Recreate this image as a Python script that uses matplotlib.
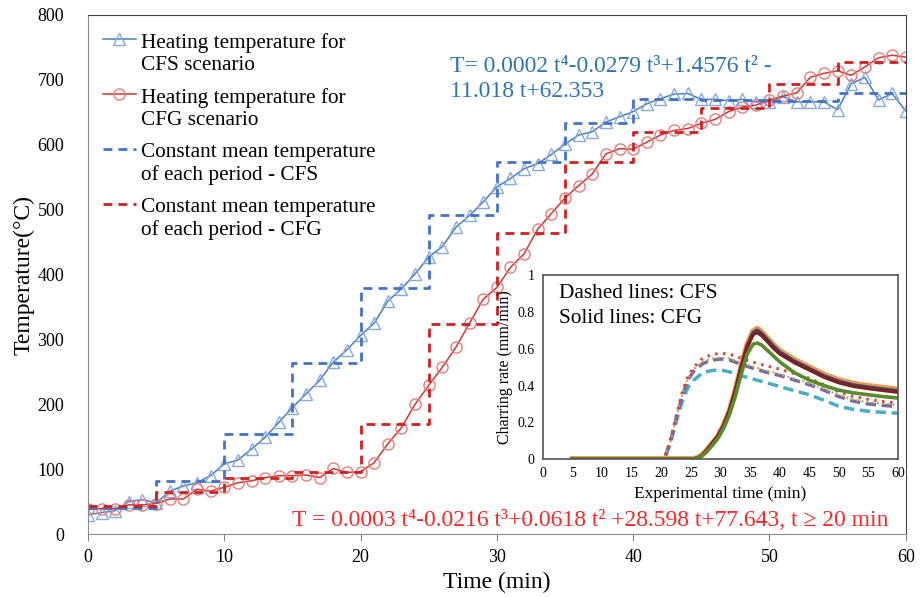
import numpy as np
import matplotlib
matplotlib.use("Agg")
import matplotlib.pyplot as plt
from matplotlib.legend_handler import HandlerLine2D

plt.rcParams['font.family'] = ['Liberation Serif', 'DejaVu Serif']

# main chart data
t_min = list(range(0, 61))
T_cfs = [30, 33, 36, 50, 53, 48, 66, 74, 79, 90, 108, 114, 131, 149, 172, 195, 216, 237,
         265, 284, 306, 325, 359, 378, 401, 427, 443, 473, 491, 512, 535, 548, 563, 571,
         585, 601, 615, 620, 635, 643, 651, 663, 671, 678, 679, 670, 670, 668, 670, 666,
         666, 674, 666, 666, 666, 654, 694, 704, 669, 679, 652]
T_cfg = [38, 39, 39, 45, 45, 47, 54, 54, 69, 66, 72, 79, 82, 87, 90, 90, 91, 87, 101, 95,
         96, 110, 139, 164, 200, 229, 257, 288, 325, 362, 380, 411, 432, 470, 494, 518,
         537, 555, 586, 594, 593, 604, 615, 622, 625, 633, 639, 651, 658, 661, 669, 675,
         680, 704, 710, 714, 707, 720, 734, 738, 735]

# constant mean temperature per 5-min period
period_start = [0, 5, 10, 15, 20, 25, 30, 35, 40, 45, 50, 55, 60]
mean_cfs = [40, 82, 154, 263, 379, 491, 574, 634, 671, 669, 668, 680]
mean_cfg = [43, 65, 86, 95, 169, 324, 464, 573, 620, 656, 694, 727]

# inset: charring rate
t_dash = [5, 20.5, 21.5, 22.5, 23.5, 24.5, 25.5, 27, 28.5, 30, 31.5, 33, 35, 37.5, 40,
          42.5, 45, 47.5, 50, 52.5, 55, 57.5, 60]
cr_red_dot = [0, 0, 0.10, 0.23, 0.36, 0.45, 0.50, 0.55, 0.568, 0.576, 0.572, 0.555, 0.532,
              0.51, 0.49, 0.465, 0.44, 0.405, 0.365, 0.34, 0.325, 0.313, 0.304]
cr_green_dot = [0, 0, 0.09, 0.22, 0.345, 0.44, 0.49, 0.53, 0.546, 0.553, 0.548, 0.53, 0.508,
                0.483, 0.463, 0.438, 0.413, 0.383, 0.348, 0.323, 0.309, 0.301, 0.295]
cr_purple = [0, 0, 0.09, 0.22, 0.34, 0.43, 0.48, 0.52, 0.538, 0.545, 0.54, 0.522, 0.50,
             0.475, 0.455, 0.43, 0.405, 0.375, 0.34, 0.315, 0.30, 0.292, 0.285]
cr_cyan = [0, 0, 0.08, 0.20, 0.31, 0.39, 0.43, 0.47, 0.482, 0.485, 0.475, 0.458, 0.44,
           0.418, 0.395, 0.372, 0.35, 0.32, 0.287, 0.27, 0.26, 0.254, 0.249]

t_solid = [5, 25.5, 26.5, 27.5, 28.5, 29.5, 30.5, 31.5, 32.5, 33.5, 34.5, 35.5, 36.2, 37,
           38, 39, 40, 42.5, 45, 47.5, 50, 52.5, 55, 57.5, 60]
cr_orange = [0, 0, 0.01, 0.04, 0.08, 0.12, 0.18, 0.26, 0.37, 0.50, 0.62, 0.695, 0.71, 0.69,
             0.655, 0.62, 0.59, 0.54, 0.50, 0.46, 0.43, 0.41, 0.398, 0.388, 0.378]
cr_blue = [0, 0, 0.01, 0.04, 0.08, 0.12, 0.18, 0.26, 0.37, 0.50, 0.615, 0.688, 0.702, 0.683,
           0.648, 0.613, 0.583, 0.533, 0.493, 0.453, 0.423, 0.403, 0.391, 0.381, 0.371]
cr_darkred = [0, 0, 0.01, 0.04, 0.08, 0.12, 0.18, 0.26, 0.37, 0.50, 0.61, 0.678, 0.69, 0.672,
              0.638, 0.603, 0.574, 0.525, 0.486, 0.446, 0.416, 0.396, 0.384, 0.374, 0.364]
cr_green = [0, 0, 0.01, 0.035, 0.07, 0.11, 0.165, 0.24, 0.34, 0.46, 0.57, 0.625, 0.632, 0.62,
            0.59, 0.56, 0.53, 0.47, 0.43, 0.40, 0.375, 0.36, 0.35, 0.34, 0.332]


class FirstLineHandler(HandlerLine2D):
    # put the legend handle next to the first line of a two-line label
    def create_artists(self, legend, orig_handle, xdescent, ydescent, width, height,
                       fontsize, trans):
        artists = super().create_artists(legend, orig_handle, xdescent, ydescent, width,
                                         height, fontsize, trans)
        for a in artists:
            a.set_ydata(np.asarray(a.get_ydata()) + 0.68 * fontsize)
        return artists


fig = plt.figure(figsize=(9.22, 5.97), dpi=100)
ax = fig.add_axes([0.0954, 0.1055, 0.887, 0.8694])

l1, = ax.plot(t_min, T_cfs, color='#4a7cc4', lw=1.1, marker='^', ms=8,
              mfc='none', mec='#86aade', mew=1.0,
              label='Heating temperature for\nCFS scenario')
l2, = ax.plot(t_min, T_cfg, color='#d03535', lw=1.1, marker='o', ms=8,
              mfc='none', mec='#e67c7c', mew=1.0,
              label='Heating temperature for\nCFG scenario')
l3, = ax.step(period_start, mean_cfs + [mean_cfs[-1]], where='post', color='#4472c4',
              lw=2, dashes=(3.2, 2.2), label='Constant mean temperature\nof each period - CFS')
l4, = ax.step(period_start, mean_cfg + [mean_cfg[-1]], where='post', color='#cc2222',
              lw=2, dashes=(3.2, 2.2), label='Constant mean temperature\nof each period - CFG')

ax.set_xlim(0, 60)
ax.set_ylim(0, 800)
ax.set_xticks(range(0, 61, 10))
ax.set_yticks(range(0, 801, 100))
ax.tick_params(axis='x', direction='out', length=5, color='#888888', labelsize=13, pad=6)
ax.tick_params(axis='y', length=0, labelsize=13, pad=17)
for side in ['left', 'bottom']:
    ax.spines[side].set_color('#8c8c8c')
for side in ['top', 'right']:
    ax.spines[side].set_color('#444444')
ax.set_xlabel('Time (min)', fontsize=17, labelpad=4)
ax.set_ylabel('Temperature(°C)', fontsize=17, labelpad=2)

hl = FirstLineHandler(numpoints=1)
leg = ax.legend(handles=[l1, l2, l3, l4], loc='upper left',
                bbox_to_anchor=(103 / 922, 1 - 33 / 597), bbox_transform=fig.transFigure,
                frameon=False, fontsize=15.3, handlelength=1.55, handletextpad=0.25,
                labelspacing=0.62, borderpad=0, borderaxespad=0,
                handler_map={l1: hl, l2: hl, l3: hl, l4: hl})

fig.text(450 / 922, 1 - 79 / 597, 'T= 0.0002 t⁴-0.0279 t³+1.4576 t² -\n11.018 t+62.353',
         color='#2e75b6', fontsize=17, ha='left', va='center', linespacing=1.25)
fig.text(292 / 922, 1 - 520 / 597,
         'T = 0.0003 t⁴-0.0216 t³+0.0618 t² +28.598 t+77.643, t ≥ 20 min',
         color='#f22a2a', fontsize=17, ha='left', va='center')

# inset
axi = fig.add_axes([0.5889, 0.2312, 0.3850, 0.3074])
axi.set_facecolor('white')
axi.plot(t_dash, cr_cyan, color='#4bacc6', lw=2.5, dashes=(3, 1.6))
axi.plot(t_dash, cr_purple, color='#8064a2', lw=2.5, dashes=(3, 1.6))
axi.plot(t_dash, cr_green_dot, color='#9bbb59', lw=1.5, dashes=(1, 1.5))
axi.plot(t_dash, cr_red_dot, color='#e0413c', lw=2.2, dashes=(0.8, 1.8))
axi.plot(t_solid, cr_orange, color='#f79646', lw=4.2)
axi.plot(t_solid, cr_blue, color='#2b4f86', lw=2.6)
axi.plot(t_solid, cr_darkred, color='#7b2323', lw=2.6)
axi.plot(t_solid, cr_green, color='#5b8a2c', lw=2.6)
axi.set_xlim(0, 60)
axi.set_ylim(0, 1)
axi.set_xticks(range(0, 61, 5))
axi.set_yticks([0, 0.2, 0.4, 0.6, 0.8, 1])
axi.set_yticklabels(['0', '0.2', '0.4', '0.6', '0.8', '1'])
axi.tick_params(length=0, labelsize=10, pad=6)
for s in axi.spines.values():
    s.set_color('#555555')
    s.set_linewidth(1.2)
axi.set_xlabel('Experimental time (min)', fontsize=12.5, labelpad=4)
axi.set_ylabel('Charring rate (mm/min)', fontsize=11.5, labelpad=3)
axi.text(0.045, 0.9, 'Dashed lines: CFS', transform=axi.transAxes, fontsize=15.3,
         ha='left', va='center')
axi.text(0.045, 0.765, 'Solid lines: CFG', transform=axi.transAxes, fontsize=15.3,
         ha='left', va='center')

fig.savefig('out.png', dpi=100)
